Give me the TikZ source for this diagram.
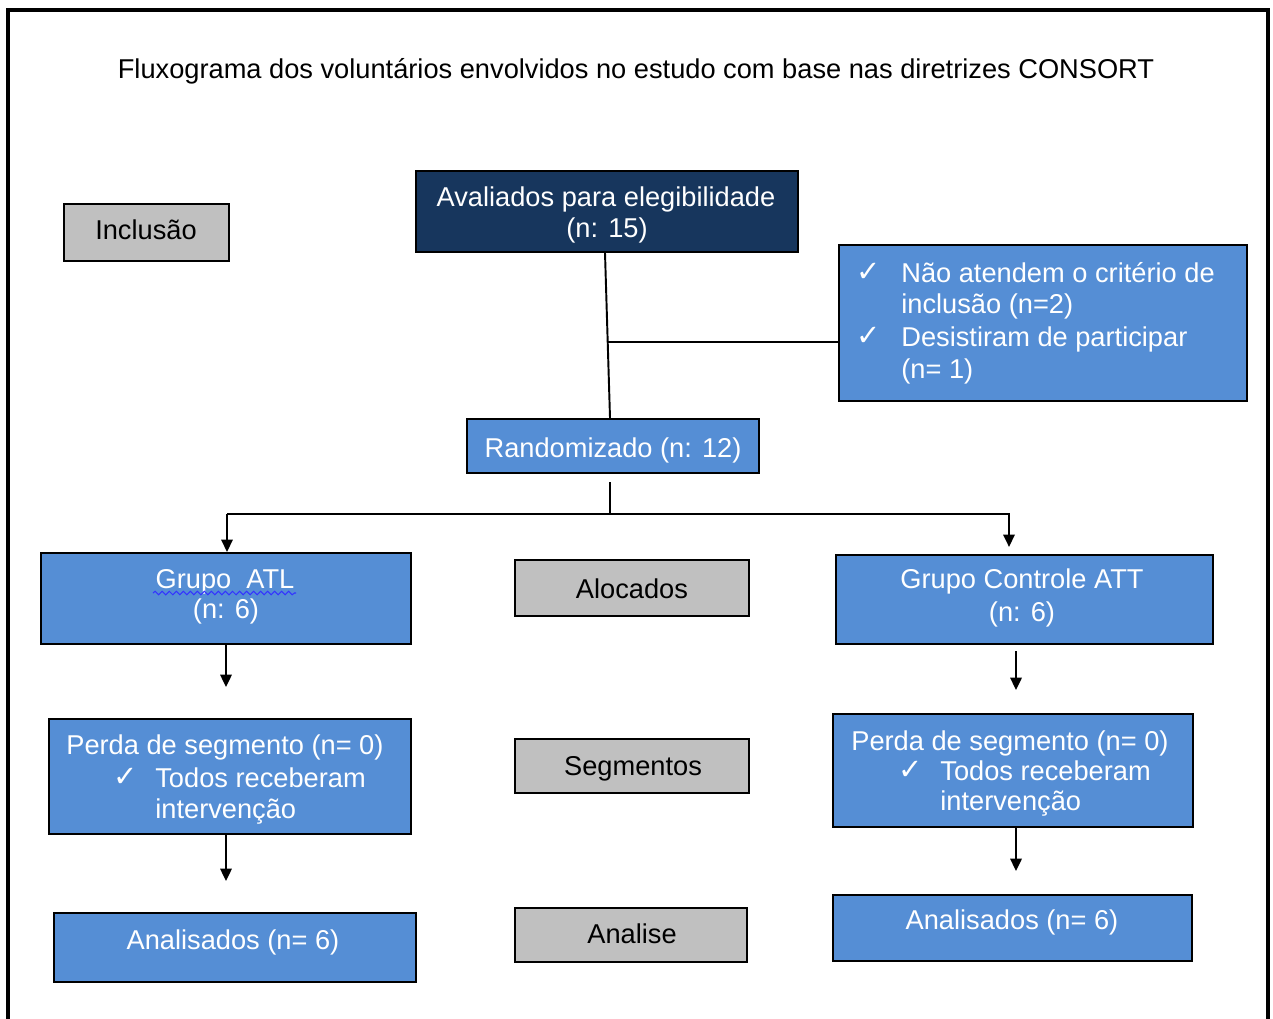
\documentclass[tikz,border=0pt]{standalone}
\usepackage{fontspec}
\setmainfont{Liberation Sans}
\newfontfamily\chkfont{DejaVu Sans}
\usetikzlibrary{arrows.meta,decorations.pathmorphing}
\definecolor{navy}{RGB}{23,54,93}
\definecolor{boxblue}{RGB}{85,142,213}
\definecolor{boxgray}{RGB}{192,192,192}
\newcommand\pbox[6]{\node[#6, minimum width={(#4-#2)*0.02cm}, minimum height={(#5-#3)*0.02cm}] (#1) at ({(#2+#4)/2},{(#3+#5)/2}) {};}
\newcommand\chk{{\chkfont\fontsize{16.5}{18}\selectfont ✓}}
\begin{document}
\begin{tikzpicture}[x=0.02cm,y=-0.02cm,
  txt/.style={font=\fontsize{15.5}{18}\selectfont, inner sep=0pt, anchor=base},
  wtxt/.style={txt, text=white},
  ltxt/.style={txt, anchor=base west},
  lwtxt/.style={wtxt, anchor=base west},
  basebox/.style={rectangle, draw=black, line width=1.2pt, inner sep=0pt},
  bluebox/.style={basebox, fill=boxblue},
  navybox/.style={basebox, fill=navy},
  graybox/.style={basebox, fill=boxgray},
  conn/.style={draw=black, line width=1.1pt},
  arr/.style={conn, -{Triangle[width=6.5pt,length=7pt]}}]
\useasboundingbox (0,0) rectangle (1273,1018);
\fill[white] (0,0) rectangle (1273,1018);
% outer frame (no bottom edge visible)
\draw[line width=1.8pt] (8,1040) -- (8,10) -- (1268,10) -- (1268,1040);

\node[txt] (title) at (636,78) {Fluxograma dos voluntários envolvidos no estudo com base nas diretrizes CONSORT};

% boxes
\pbox{incl}{64}{204}{229}{261}{graybox}
\pbox{aval}{416}{171}{798}{252}{navybox}
\pbox{excl}{839}{245}{1247}{401}{bluebox}
\pbox{rand}{467}{419}{759}{473}{bluebox}
\pbox{gatl}{41}{553}{411}{644}{bluebox}
\pbox{aloc}{515}{560}{749}{616}{graybox}
\pbox{gatt}{836}{555}{1213}{644}{bluebox}
\pbox{pl}{49}{719}{411}{834}{bluebox}
\pbox{segm}{515}{739}{749}{793}{graybox}
\pbox{pr}{833}{714}{1193}{827}{bluebox}
\pbox{anl}{54}{913}{416}{982}{bluebox}
\pbox{anse}{515}{908}{747}{962}{graybox}
\pbox{anr}{833}{895}{1192}{961}{bluebox}

% texts
\node[txt] (t-incl) at (146,239) {Inclusão};
\node[wtxt] (t-aval1) at (606,206) {Avaliados para elegibilidade};
\node[wtxt] (t-aval2) at (607,237) {(n: 15)};
\node (t-ex1c) [lwtxt] at (856,281) {\chk};
\node (t-ex1) [lwtxt] at (901,282) {Não atendem o critério de};
\node (t-ex2) [lwtxt] at (901,313) {inclusão (n=2)};
\node (t-ex3c) [lwtxt] at (856,345) {\chk};
\node (t-ex3) [lwtxt] at (901,346) {Desistiram de participar};
\node (t-ex4) [lwtxt] at (901,378) {(n= 1)};
\node[wtxt] (t-rand) at (613,457) {Randomizado (n: 12)};
\node[wtxt] (t-gatl1) at (225,588) {Grupo\ \ ATL};
\node[wtxt] (t-gatl2) at (226,618) {(n: 6)};
\draw[blue!80!white, line width=0.6pt, decorate, decoration={snake, amplitude=1pt, segment length=4pt}] (153,593) -- (296,593);
\node[txt] (t-aloc) at (632,598) {Alocados};
\node[wtxt] (t-gatt1) at (1022,588) {Grupo Controle ATT};
\node[wtxt] (t-gatt2) at (1022,621) {(n: 6)};
\node (t-pl1) [lwtxt] at (66,754) {Perda de segmento (n= 0)};
\node (t-pl2c) [lwtxt] at (113,786) {\chk};
\node (t-pl2) [lwtxt] at (155,787) {Todos receberam};
\node (t-pl3) [lwtxt] at (155,818) {intervenção};
\node[txt] (t-segm) at (633,775) {Segmentos};
\node (t-pr1) [lwtxt] at (851,750) {Perda de segmento (n= 0)};
\node (t-pr2c) [lwtxt] at (898,779) {\chk};
\node (t-pr2) [lwtxt] at (940,780) {Todos receberam};
\node (t-pr3) [lwtxt] at (940,810) {intervenção};
\node[wtxt] (t-anl) at (233,949) {Analisados (n= 6)};
\node[txt] (t-anse) at (632,943) {Analise};
\node[wtxt] (t-anr) at (1012,929) {Analisados (n= 6)};

% connectors
\coordinate (topx) at (605,0);
\coordinate (botx) at (610,0);
\coordinate (jx) at (608,342);
\draw[conn] (aval.south -| topx) -- (rand.north -| botx);
\draw[conn] (jx) -- (excl.west |- jx);
\coordinate (rs) at (610,482);
\coordinate (rj) at (610,514);
\coordinate (la) at (227,514);
\coordinate (ra) at (1009,514);
\draw[conn] (rs) -- (rj);
\draw[conn] (la) -- (ra);
\draw[arr] (la) -- (gatl.north -| la);
\draw[arr] ([yshift=0.6pt]ra) -- ([yshift=4pt]gatt.north -| ra);
\coordinate (a1) at (226,687);
\draw[arr] (gatl.south -| a1) -- (a1);
\coordinate (a2) at (226,881);
\draw[arr] (pl.south -| a2) -- (a2);
\coordinate (a3) at (1016,690);
\draw[arr] (gatt.south -| a3) ++(0,6) -- (a3);
\coordinate (a4) at (1016,871);
\draw[arr] (pr.south -| a4) -- (a4);
\end{tikzpicture}
\end{document}
